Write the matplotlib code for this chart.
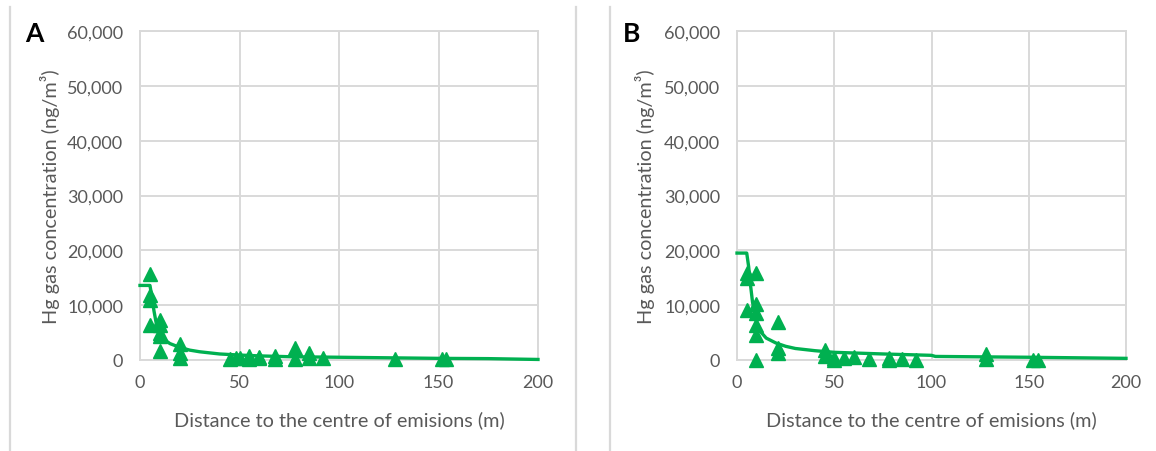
import matplotlib
matplotlib.use("Agg")
import matplotlib.pyplot as plt
from matplotlib.ticker import FuncFormatter, MultipleLocator
from matplotlib.lines import Line2D

plt.rcParams['font.family'] = ['Lato', 'DejaVu Sans']

# ---- Data ----
# Panel A measured points
a_dist = [5, 5, 5, 5, 10, 10, 10, 10, 10, 20, 20, 20, 45, 48, 50, 55, 55, 60, 60,
          68, 68, 78, 78, 85, 85, 92, 128, 152, 154]
a_conc = [15600, 11800, 10900, 6400, 7300, 6400, 4900, 4300, 1600, 3000, 1200, 300,
          200, 300, 400, 200, 700, 600, 300, 800, 100, 2100, 100, 1300, 300, 400,
          200, 100, 100]
# Panel A model line
a_line_x = [0, 5, 6, 7, 8, 9, 10, 12, 15, 20, 25, 30, 40, 50, 60, 75, 100, 125, 150, 175, 200]
a_line_y = [13600, 13600, 11500, 9000, 7000, 5600, 4800, 3800, 3000, 2300, 1800, 1500,
            1100, 900, 750, 600, 500, 400, 300, 250, 100]

# Panel B measured points
b_dist = [5, 5, 10, 5, 10, 10, 10, 10, 10, 21, 21, 21, 45, 45, 50, 50, 55, 60,
          68, 78, 78, 85, 92, 128, 128, 152, 155]
b_conc = [15800, 14900, 15800, 9100, 10300, 8500, 6400, 4500, 0, 7000, 2100, 1200,
          1900, 700, 300, 0, 300, 500, 200, 300, 0, 100, 0, 1100, 100, 0, 0]
# Panel B model line
b_line_x = [0, 5, 6, 7, 8, 10, 12, 15, 20, 25, 30, 40, 50, 75, 100, 102, 150, 200]
b_line_y = [19500, 19500, 17000, 13500, 10500, 7000, 5200, 4000, 3100, 2500, 2100,
            1700, 1400, 1100, 850, 650, 500, 300]

panel_labels = ["A", "B"]
x_label = "Distance to the centre of emisions (m)"
y_label = "Hg gas concentration (ng/m³)"

# ---- Figure ----
W, H = 1156, 452
fig = plt.figure(figsize=(W / 100, H / 100), dpi=100)
fig.patch.set_facecolor("white")

GREEN = "#00b050"
GRID = "#d9d9d9"
TXT = "#595959"


def px_axes(left, top, right, bottom):
    return fig.add_axes([left / W, 1 - bottom / H, (right - left) / W, (bottom - top) / H])


panels = [
    (px_axes(140, 32, 538, 361), a_dist, a_conc, a_line_x, a_line_y, 34, 50),
    (px_axes(737, 32, 1126, 361), b_dist, b_conc, b_line_x, b_line_y, 632, 645),
]

for i, (ax, xd, yd, lx, ly, lab_x, ylab_x) in enumerate(panels):
    ax.set_xlim(0, 200)
    ax.set_ylim(0, 60000)
    ax.xaxis.set_major_locator(MultipleLocator(50))
    ax.yaxis.set_major_locator(MultipleLocator(10000))
    ax.yaxis.set_major_formatter(FuncFormatter(lambda v, p: f"{v:,.0f}"))
    ax.grid(True, color=GRID, linewidth=1.4)
    ax.set_axisbelow(True)
    for s in ax.spines.values():
        s.set_color(GRID)
        s.set_linewidth(1.4)
    ax.tick_params(length=0, labelsize=13, labelcolor=TXT)
    ax.tick_params(axis="y", pad=12)
    ax.tick_params(axis="x", pad=10)
    ax.plot(lx, ly, color=GREEN, linewidth=2.4, zorder=3, clip_on=False)
    ax.plot(xd, yd, linestyle="none", marker="^", markersize=10, color=GREEN,
            zorder=4, clip_on=False)
    ax.set_xlabel(x_label, fontsize=14.3, color=TXT)
    ax.set_ylabel(y_label, fontsize=14.3, color=TXT)
    pos = ax.get_position()
    ax.xaxis.set_label_coords(0.5, -(420 - 361) / (pos.height * H), transform=ax.transAxes)
    ax.xaxis.label.set_va("center")
    ax.yaxis.set_label_coords((ylab_x - pos.x0 * W) / (pos.width * W), 0.5)
    ax.yaxis.label.set_va("center")
    fig.text(lab_x / W, 1 - 34 / H, panel_labels[i], fontsize=19, fontweight="bold",
             ha="center", va="center", color="black")

# separator lines
for xs in (10, 576, 610):
    fig.add_artist(Line2D([xs / W, xs / W], [0, 1 - 8 / H], transform=fig.transFigure,
                          color=GRID, linewidth=1.6))

fig.savefig("out.png", dpi=100, facecolor="white")
